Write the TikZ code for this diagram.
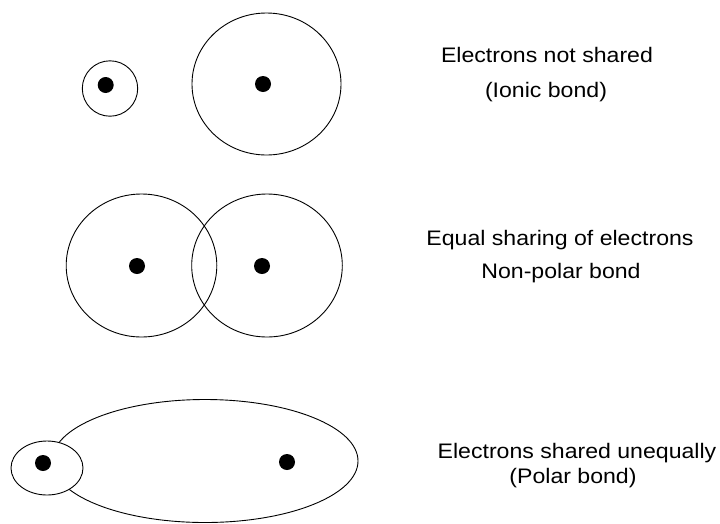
\documentclass[tikz,border=0pt]{standalone}
\usepackage{fontspec}
\setmainfont{Liberation Sans}
\begin{document}
\begin{tikzpicture}[x=1pt,y=-1pt,
  orbit/.style={draw=black,line width=0.9pt},
  nucleus/.style={fill=black},
  lbl/.style={anchor=base,inner sep=0pt,xscale=1.1,font=\fontsize{21}{25}\selectfont}]
\useasboundingbox (0,0) rectangle (720,523);
% Row 1: ionic
\draw[orbit] (110,88.5) ellipse [x radius=27.7,y radius=27.7];
\fill[nucleus] (105.7,85) circle [radius=8];
\draw[orbit] (266.5,84) ellipse [x radius=74.5,y radius=71];
\fill[nucleus] (263,84) circle [radius=8];
\node[lbl] (t1a) at (547,62) {Electrons not shared};
\node[lbl] (t1b) at (546,97) {(Ionic bond)};
% Row 2: non-polar
\draw[orbit] (141.5,265.5) ellipse [x radius=75.3,y radius=71.5];
\draw[orbit] (267,265.5) ellipse [x radius=75.3,y radius=71.5];
\fill[nucleus] (137,266) circle [radius=8];
\fill[nucleus] (262,266) circle [radius=8];
\node[lbl] (t2a) at (560,245) {Equal sharing of electrons};
\node[lbl] (t2b) at (561,278) {Non-polar bond};
% Row 3: polar
\draw[orbit] (205,461) ellipse [x radius=153,y radius=61.5];
\draw[orbit,fill=white] (47,468) ellipse [x radius=36,y radius=27];
\fill[nucleus] (43,463) circle [radius=8];
\fill[nucleus] (287,462) circle [radius=8];
\node[lbl] (t3a) at (577,458) {Electrons shared unequally};
\node[lbl] (t3b) at (573,483) {(Polar bond)};
\end{tikzpicture}
\end{document}
